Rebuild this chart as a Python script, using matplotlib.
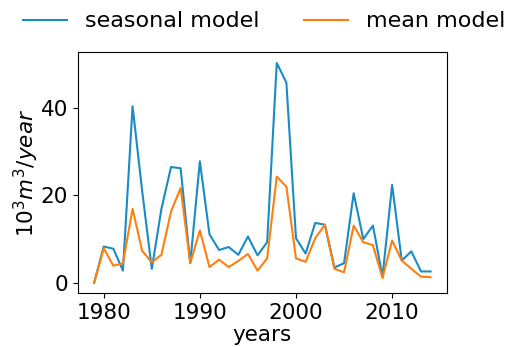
import numpy as np
import matplotlib
matplotlib.use('Agg')
import matplotlib.pyplot as plt

# Yearly volumes, 10^3 m^3 per year
years = np.arange(1979, 2015)
seasonal = [0.0, 8.3, 7.8, 2.8, 40.4, 21.0, 3.2, 16.9, 26.5, 26.2,
            4.5, 27.8, 11.1, 7.5, 8.2, 6.4, 10.6, 6.3, 9.3, 50.3,
            45.8, 10.2, 6.7, 13.7, 13.3, 3.5, 4.5, 20.5, 10.0, 13.1,
            1.4, 22.4, 5.1, 7.2, 2.6, 2.6]
mean = [0.0, 7.9, 3.9, 4.5, 16.9, 7.3, 4.7, 6.4, 16.3, 21.7,
        4.5, 12.0, 3.6, 5.3, 3.6, 5.0, 6.6, 2.8, 5.6, 24.3,
        22.0, 5.6, 4.8, 10.2, 13.3, 3.2, 2.4, 13.1, 9.3, 8.6,
        1.1, 9.7, 5.1, 3.2, 1.4, 1.3]

plt.rcParams['font.size'] = 15.5

fig = plt.figure(figsize=(5.05, 3.47), dpi=100)
ax = fig.add_axes([0.154, 0.156, 0.731, 0.694])

ax.plot(years, seasonal, color='#1a8cc4', lw=1.5, label='seasonal model')
ax.plot(years, mean, color='#ff7f0e', lw=1.5, label='mean model')

ax.set_xticks([1980, 1990, 2000, 2010])
ax.set_yticks([0, 20, 40])
ax.set_xlim(1977.3, 2015.7)
ax.set_ylim(-2.3, 52.8)
ax.set_xlabel('years', labelpad=1.5)
ax.set_ylabel(r'$10^3 m^3/year$', labelpad=0)

fig.legend(loc='upper center', bbox_to_anchor=(0.523, 1.025), ncol=2,
           frameon=False, fontsize=16, handlelength=2.0, columnspacing=2.0)

fig.savefig('out.png', dpi=100)
